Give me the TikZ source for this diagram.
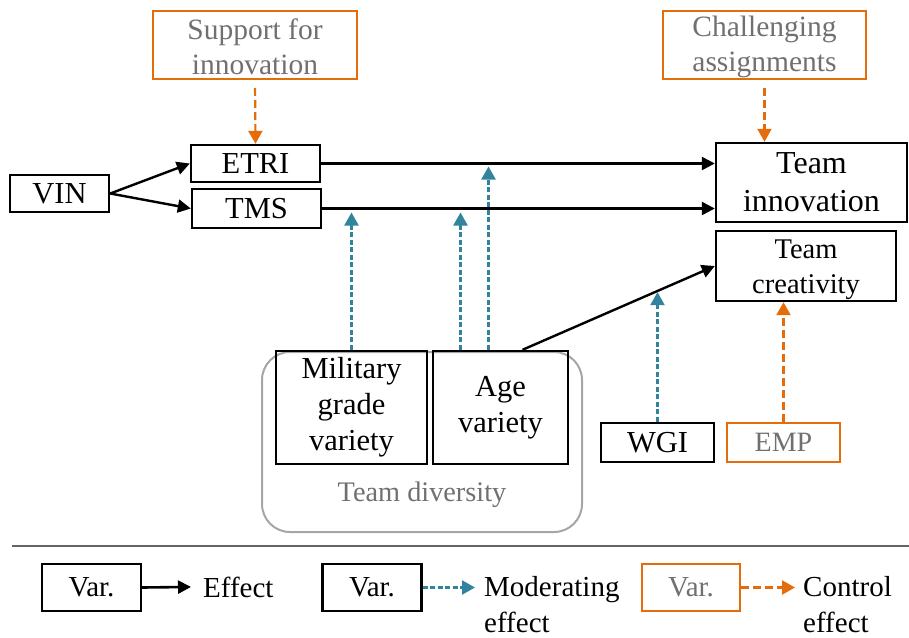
\documentclass[tikz,border=0pt]{standalone}
\usepackage{fontspec}
\setmainfont{Liberation Serif}
\usetikzlibrary{arrows.meta,calc}

\definecolor{ctrlorange}{HTML}{E46C0A}
\definecolor{modblue}{HTML}{31849B}
\definecolor{softgray}{HTML}{707070}
\definecolor{linegray}{HTML}{646464}
\definecolor{framegray}{HTML}{A6A6A6}

\tikzset{
  var/.style={draw, line width=2.4pt, inner sep=0pt, align=center,
    font=\fontsize{30.5}{36}\selectfont},
  ctrlvar/.style={var, draw=ctrlorange, line width=2pt, text=softgray,
    font=\fontsize{29.5}{35}\selectfont},
  eff/.style={-{Triangle[length=13pt,width=13pt]}, line width=2.4pt},
  mod/.style={-{Triangle[length=13pt,width=14pt]}, modblue, line width=2.2pt,
    dash pattern=on 5pt off 2.5pt},
  ctl/.style={-{Triangle[length=13pt,width=14pt]}, ctrlorange, line width=2.2pt,
    dash pattern=on 8pt off 4pt}
}

\begin{document}
\begin{tikzpicture}[x=1pt,y=-1pt]
\useasboundingbox (0,0) rectangle (909,637);

\draw[framegray, line width=2pt, rounded corners=28pt] (262,352) rectangle (582,532);
\node[text=softgray, font=\fontsize{28.3}{32}\selectfont] (div) at (422,495) {Team diversity};

\begin{scope}[every node/.style={var}]
    \node (vin) at (59.5,193.5) [minimum width=99pt, minimum height=37pt] {VIN};
    \node (etri) at (255.5,163.5) [minimum width=129pt, minimum height=37pt] {ETRI};
    \node (tms) at (256.5,208.5) [minimum width=129pt, minimum height=39pt] {TMS};
    \node (inno) at (811.5,182.5) [minimum width=191pt, minimum height=79pt,
        font=\fontsize{32}{38}\selectfont] {Team\\innovation};
    \node (crea) at (806,266) [minimum width=180pt, minimum height=70pt, text height=61pt,
        font=\fontsize{28.5}{35}\selectfont] {Team\\creativity};
    \node (mil) at (351.5,407.5) [minimum width=151pt, minimum height=113pt] {Military\\grade\\variety};
    \node (age) at (500.5,407.5) [minimum width=135pt, minimum height=113pt] {Age\\variety};
    \node (wgi) at (657.5,442.5) [minimum width=113pt, minimum height=39pt] {WGI};
\end{scope}

\begin{scope}[every node/.style={ctrlvar}]
    \node (sup) at (255,45) [minimum width=204pt, minimum height=68pt, text height=59pt] {Support for\\innovation};
    \node (chal) at (764.5,45) [minimum width=203pt, minimum height=68pt, text height=59pt] {Challenging\\assignments};
    \node (emp) at (783.5,442.5) [minimum width=113pt, minimum height=39pt,
        font=\fontsize{28}{33}\selectfont] {EMP};
\end{scope}

    \path [eff] (vin.east) edge (etri.west);
    \path [eff] (vin.east) edge (tms.west);
    \path [eff] (etri.east) edge (inno.west |- etri.east);
    \path [eff] (tms.east) edge (inno.west |- tms.east);
    \path [eff, linegray, line width=2pt] ([xshift=1.5pt]vin.north) -- ++(0,-69) -| ([xshift=4pt]inno.north);

    \coordinate (a1) at ([xshift=22pt]age.north);
    \path [eff] (a1) edge (crea.west);
    \coordinate (w1) at ($(a1)!0.7!(crea.west)$);

    \path [ctl, shorten <=8pt] (sup.south) edge (etri.north);
    \path [ctl, shorten <=8pt] (chal.south) edge (chal.south |- inno.north);
    \path [ctl] (emp.north) edge (emp.north |- crea.south);

    \path [mod, shorten >=4pt] (mil.north) edge (mil.north |- tms.east);
    \path [mod, shorten >=4pt] ([xshift=-40pt]age.north) edge ([xshift=-40pt]age.north |- tms.east);
    \path [mod, shorten >=3pt] ([xshift=-12pt]age.north) edge ([xshift=-12pt]age.north |- etri.east);
    \path [mod, shorten >=1pt] (wgi.north) edge (wgi.north |- w1);

    \draw[linegray, line width=2.4pt] (12,546) -- (909,546);

% legend
\begin{scope}[every node/.style={var, font=\fontsize{29}{35}\selectfont}]
    \node (lv1) at (91.5,587.5) [minimum width=99pt, minimum height=47pt] {Var.};
    \node (lv2) at (372,587.5) [minimum width=99pt, minimum height=47pt] {Var.};
\end{scope}
    \node[ctrlvar, font=\fontsize{29}{35}\selectfont] (lv3) at (691,587.5) [minimum width=98pt, minimum height=47pt] {Var.};

\begin{scope}[every node/.style={inner sep=0pt, align=left, font=\fontsize{29}{36}\selectfont}]
    \node (le1) [anchor=base west] at (203,597) {Effect};
    \node (le2) [anchor=north west] at (484,576) {Moderating\\effect};
    \node (le3) [anchor=north west] at (803,576) {Control\\effect};
\end{scope}

    \path [eff, line width=2.6pt] (lv1.east) edge ([xshift=-12pt]le1.west);
    \path [mod] (lv2.east) edge ([xshift=-9pt]le2.west |- lv2.east);
    \path [ctl] (lv3.east) edge ([xshift=-8pt]le3.west |- lv3.east);

\end{tikzpicture}
\end{document}
